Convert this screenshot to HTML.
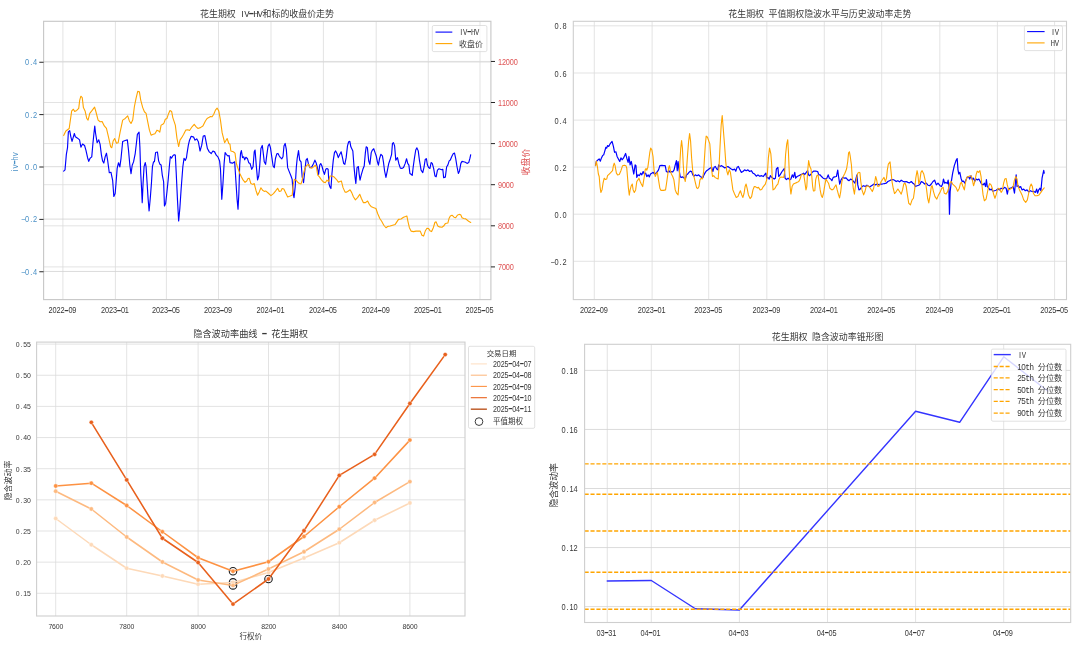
<!DOCTYPE html>
<html lang="zh-CN"><head><meta charset="utf-8"><title>花生期权</title>
<style>
html,body{margin:0;padding:0;background:#fff;}
body{width:1080px;height:646px;overflow:hidden;}
svg{display:block;font-family:"Liberation Sans","Noto Sans CJK SC",sans-serif;filter:blur(0.3px);}
</style></head><body>
<svg width="1080" height="646" viewBox="0 0 1080 646">
<rect width="1080" height="646" fill="#ffffff"/>
<line x1="62.90" y1="21.30" x2="62.90" y2="299.60" stroke="#dcdcdc" stroke-width="0.8"/>
<line x1="115.40" y1="21.30" x2="115.40" y2="299.60" stroke="#dcdcdc" stroke-width="0.8"/>
<line x1="166.40" y1="21.30" x2="166.40" y2="299.60" stroke="#dcdcdc" stroke-width="0.8"/>
<line x1="218.50" y1="21.30" x2="218.50" y2="299.60" stroke="#dcdcdc" stroke-width="0.8"/>
<line x1="271.00" y1="21.30" x2="271.00" y2="299.60" stroke="#dcdcdc" stroke-width="0.8"/>
<line x1="323.40" y1="21.30" x2="323.40" y2="299.60" stroke="#dcdcdc" stroke-width="0.8"/>
<line x1="376.20" y1="21.30" x2="376.20" y2="299.60" stroke="#dcdcdc" stroke-width="0.8"/>
<line x1="428.30" y1="21.30" x2="428.30" y2="299.60" stroke="#dcdcdc" stroke-width="0.8"/>
<line x1="480.00" y1="21.30" x2="480.00" y2="299.60" stroke="#dcdcdc" stroke-width="0.8"/>
<line x1="43.60" y1="61.95" x2="490.90" y2="61.95" stroke="#d2d2d2" stroke-width="0.8" />
<line x1="43.60" y1="114.30" x2="490.90" y2="114.30" stroke="#d2d2d2" stroke-width="0.8" />
<line x1="43.60" y1="166.70" x2="490.90" y2="166.70" stroke="#d2d2d2" stroke-width="0.8" />
<line x1="43.60" y1="219.10" x2="490.90" y2="219.10" stroke="#d2d2d2" stroke-width="0.8" />
<line x1="43.60" y1="271.45" x2="490.90" y2="271.45" stroke="#d2d2d2" stroke-width="0.8" />
<line x1="43.60" y1="61.45" x2="490.90" y2="61.45" stroke="#dcdcdc" stroke-width="0.8" />
<line x1="43.60" y1="102.50" x2="490.90" y2="102.50" stroke="#dcdcdc" stroke-width="0.8" />
<line x1="43.60" y1="143.60" x2="490.90" y2="143.60" stroke="#dcdcdc" stroke-width="0.8" />
<line x1="43.60" y1="184.70" x2="490.90" y2="184.70" stroke="#dcdcdc" stroke-width="0.8" />
<line x1="43.60" y1="225.80" x2="490.90" y2="225.80" stroke="#dcdcdc" stroke-width="0.8" />
<line x1="43.60" y1="266.90" x2="490.90" y2="266.90" stroke="#dcdcdc" stroke-width="0.8" />
<path d="M63.68 171.09 L65.01 169.92 L66.35 154.37 L67.52 147.69 L68.36 131.81 L69.69 130.64 L70.86 136.82 L72.03 141.34 L73.37 136.82 L74.37 133.48 L75.38 136.82 L77.55 138.16 L79.55 139.83 L80.89 147.19 L82.56 144.01 L84.57 145.52 L85.91 150.19 L87.58 157.72 L88.75 161.39 L90.08 158.22 L91.75 156.88 L92.92 143.51 L93.93 133.48 L94.76 125.96 L95.60 133.48 L97.10 142.67 L98.77 139.83 L100.11 144.35 L101.45 155.21 L102.62 161.06 L103.79 163.06 L105.13 156.88 L106.46 153.20 L107.63 160.22 L109.30 172.76 L110.97 172.26 L112.65 180.28 L113.82 196.46 L115.15 193.45 L115.99 183.43 L117.16 168.38 L118.50 162.73 L119.83 166.91 L121.00 158.55 L122.67 141.50 L125.18 140.50 L127.35 139.83 L128.52 150.19 L129.86 165.24 L131.03 173.59 L132.20 165.24 L133.54 161.89 L135.21 153.54 L136.38 143.51 L137.38 134.32 L139.05 132.14 L139.89 146.85 L140.72 173.59 L141.56 188.11 L142.23 202.65 L143.06 183.43 L144.07 166.71 L145.24 162.53 L146.07 166.71 L146.91 180.08 L148.08 198.47 L149.08 211.00 L150.25 198.47 L151.42 183.43 L152.42 166.71 L153.59 161.70 L154.43 161.70 L155.60 152.51 L157.44 152.01 L158.61 160.86 L159.94 164.21 L161.11 165.04 L162.28 175.07 L163.62 181.75 L164.46 205.99 L165.63 203.48 L166.96 191.78 L168.30 178.41 L169.47 165.04 L170.31 156.69 L171.64 158.02 L172.81 155.85 L174.15 154.68 L175.32 155.01 L176.16 171.73 L177.49 200.14 L178.66 221.03 L179.83 208.50 L181.17 188.44 L182.84 166.71 L184.01 158.36 L185.35 160.36 L186.52 157.52 L187.02 153.54 L188.36 145.18 L189.53 140.17 L191.20 136.32 L193.70 137.16 L195.04 140.17 L196.71 138.83 L198.38 141.84 L200.06 151.03 L201.73 145.18 L203.23 135.99 L204.90 135.65 L206.24 142.67 L207.41 148.52 L209.25 151.87 L211.25 153.54 L212.92 151.03 L214.60 151.87 L216.27 155.21 L217.94 156.88 L219.61 161.06 L220.45 168.58 L221.78 199.30 L222.95 183.43 L224.12 163.37 L225.13 152.53 L226.30 154.37 L227.97 156.04 L229.14 155.54 L230.00 162.65 L232.51 163.15 L234.68 161.81 L235.85 180.19 L237.02 198.58 L238.02 209.11 L238.86 193.57 L239.69 165.15 L240.53 153.45 L241.36 150.61 L242.53 157.63 L243.70 156.80 L244.71 159.81 L245.88 157.30 L247.55 158.80 L248.72 162.65 L250.06 163.48 L251.73 169.33 L253.06 166.82 L254.23 151.78 L255.07 150.11 L256.24 165.15 L257.58 179.86 L258.75 176.02 L259.75 165.15 L260.92 148.44 L262.26 145.43 L263.09 151.78 L264.26 161.81 L265.60 164.32 L266.77 155.13 L268.11 145.93 L269.28 143.93 L270.45 147.60 L271.78 156.80 L273.12 165.99 L274.29 167.66 L275.46 158.47 L276.80 153.79 L277.97 153.45 L279.30 155.96 L280.47 157.63 L281.81 158.80 L282.98 156.80 L283.98 145.93 L285.15 143.43 L286.32 149.28 L287.66 167.66 L289.33 171.84 L291.00 176.02 L292.17 179.36 L293.18 193.57 L294.01 197.74 L295.18 186.88 L296.35 166.82 L297.19 158.47 L298.52 150.61 L299.69 160.14 L301.03 161.81 L302.20 176.85 L303.54 182.70 L304.71 171.84 L306.04 160.14 L307.21 158.47 L308.55 164.32 L309.89 167.66 L311.89 166.82 L313.57 163.48 L314.90 160.14 L316.07 162.65 L317.24 166.82 L318.58 174.35 L319.75 165.15 L320.75 163.48 L321.92 165.99 L323.26 171.00 L324.43 174.35 L325.77 169.33 L326.94 168.50 L328.11 169.33 L328.94 183.54 L329.94 186.88 L330.95 188.55 L331.95 173.51 L333.29 160.14 L334.46 152.62 L335.63 150.95 L336.96 153.45 L338.30 157.63 L339.81 154.29 L341.14 151.78 L342.31 156.80 L343.65 163.48 L344.82 164.32 L346.16 157.63 L347.49 145.93 L348.66 141.75 L349.83 141.42 L350.84 146.77 L352.84 150.95 L354.01 166.82 L355.01 176.85 L355.85 183.54 L357.02 167.66 L358.36 166.49 L359.19 174.35 L360.03 180.19 L361.20 175.18 L362.87 169.33 L364.21 165.99 L365.38 152.62 L366.21 146.77 L367.38 147.60 L368.72 160.97 L369.89 164.32 L371.23 152.62 L372.40 150.11 L373.73 148.77 L375.07 152.62 L376.24 155.96 L377.41 161.81 L378.41 165.15 L379.58 158.47 L380.92 154.29 L382.42 155.96 L383.43 161.81 L384.60 171.00 L385.93 177.35 L387.10 171.84 L388.77 163.48 L390.45 158.47 L391.62 154.29 L392.45 143.43 L393.45 142.59 L394.62 145.93 L395.79 160.14 L397.47 157.63 L398.80 163.48 L400.36 168.08 L401.87 168.41 L403.54 167.58 L405.21 163.40 L406.55 158.72 L407.72 163.40 L408.89 165.07 L409.89 173.43 L411.06 174.26 L412.23 175.43 L413.23 166.74 L414.40 158.38 L415.74 150.03 L416.91 147.86 L418.25 150.86 L419.42 160.06 L421.09 170.08 L422.76 172.59 L423.93 167.58 L425.26 159.22 L426.43 158.72 L427.44 165.07 L428.61 167.58 L429.94 168.41 L431.11 162.56 L432.28 163.40 L433.62 168.41 L434.96 175.93 L436.13 176.77 L437.47 170.08 L438.97 168.75 L440.31 169.25 L441.64 169.75 L442.81 169.25 L443.65 177.60 L445.32 177.10 L446.66 166.74 L447.83 165.07 L449.16 160.89 L450.33 160.06 L451.67 156.71 L453.18 153.70 L454.51 153.04 L455.68 158.38 L457.02 166.74 L458.36 173.43 L459.53 170.92 L460.86 163.40 L462.03 161.39 L463.70 161.73 L465.38 162.23 L467.05 163.40 L468.72 162.56 L469.89 158.38 L470.72 154.71" fill="none" stroke="#0000ff" stroke-width="1.15" stroke-linejoin="round" stroke-linecap="round" />
<path d="M63.68 135.49 L65.85 130.97 L69.19 128.47 L70.36 120.11 L71.70 110.92 L73.37 109.25 L74.71 111.42 L76.71 110.42 L78.72 108.41 L79.72 100.06 L80.89 96.21 L82.23 97.55 L83.40 107.58 L85.07 110.92 L86.74 118.44 L88.08 120.11 L89.75 113.43 L91.75 110.92 L94.60 107.08 L95.93 111.75 L98.11 120.11 L100.11 121.78 L102.12 121.45 L104.29 125.96 L106.46 128.47 L108.47 136.82 L110.64 146.85 L111.81 147.69 L113.15 141.00 L114.65 138.50 L116.49 143.18 L118.16 142.67 L120.17 131.81 L122.67 120.11 L125.18 118.44 L127.69 115.93 L129.36 120.95 L131.03 123.45 L132.70 120.11 L134.37 106.74 L136.04 98.38 L137.72 91.36 L139.39 91.70 L140.72 100.06 L142.73 107.58 L144.40 111.75 L146.07 113.43 L147.74 121.78 L149.42 130.14 L151.09 135.15 L153.26 134.32 L154.93 133.82 L156.94 130.14 L158.61 130.97 L159.78 132.14 L161.11 125.13 L162.79 124.29 L163.96 123.12 L165.29 119.28 L166.96 118.44 L168.64 113.43 L169.97 110.58 L171.64 111.42 L172.81 117.60 L175.32 125.13 L176.99 138.50 L178.66 146.52 L180.00 140.17 L181.67 137.66 L183.68 134.32 L185.68 130.14 L187.86 129.81 L189.53 130.47 L192.03 126.80 L194.21 124.29 L196.21 126.80 L197.88 128.47 L200.39 127.63 L202.90 125.96 L205.40 120.95 L207.08 118.44 L208.75 117.60 L210.42 116.43 L212.09 116.77 L213.76 114.26 L215.43 110.08 L217.10 108.08 L218.77 110.92 L220.45 120.11 L222.12 132.65 L224.62 142.67 L227.13 138.50 L228.80 143.51 L230.00 144.26 L230.84 150.95 L233.34 151.78 L235.01 153.12 L236.35 163.48 L238.02 168.50 L239.69 173.18 L241.36 176.85 L243.04 179.86 L245.04 182.37 L246.71 181.03 L248.05 178.52 L249.22 178.19 L250.89 183.54 L252.56 184.37 L254.23 183.54 L255.91 190.22 L257.58 195.24 L259.25 191.89 L260.92 187.72 L262.59 190.22 L264.26 191.39 L265.93 191.06 L268.44 193.23 L270.95 195.57 L273.45 193.57 L275.46 191.06 L277.63 188.22 L279.30 191.56 L280.97 191.06 L282.14 188.55 L283.82 189.05 L285.99 193.57 L287.66 196.91 L290.17 196.07 L292.17 195.24 L293.18 185.21 L294.35 179.36 L296.02 180.19 L297.69 182.20 L299.36 183.54 L301.03 183.87 L302.20 180.19 L303.54 173.51 L304.87 168.50 L306.55 165.49 L308.55 164.32 L310.22 167.66 L311.89 168.16 L313.57 166.82 L315.24 165.15 L316.41 166.82 L317.74 175.18 L319.42 176.85 L321.09 179.36 L323.26 181.87 L325.26 182.70 L326.94 180.19 L328.61 181.53 L330.00 175.93 L332.01 175.93 L334.18 177.10 L336.35 179.28 L338.36 182.12 L340.03 181.45 L341.36 180.95 L343.04 187.63 L345.04 192.14 L346.71 192.14 L348.38 190.97 L350.06 189.81 L351.73 192.65 L353.40 196.82 L355.40 199.83 L357.58 197.66 L359.75 194.32 L361.42 198.50 L363.43 202.67 L365.43 202.67 L367.60 201.00 L369.28 204.35 L371.45 206.85 L373.79 207.69 L375.96 208.52 L377.63 213.54 L379.81 218.55 L381.81 221.56 L383.82 225.24 L385.99 227.74 L387.66 226.57 L390.17 226.07 L392.67 225.24 L395.18 224.40 L396.85 221.89 L398.52 219.39 L401.03 219.05 L403.54 217.21 L405.54 216.55 L406.88 216.04 L408.05 221.89 L409.39 227.74 L411.06 231.09 L413.57 231.59 L416.07 231.09 L418.58 231.09 L420.25 231.09 L421.92 235.26 L423.59 236.10 L425.26 231.09 L426.94 228.25 L428.61 228.58 L430.28 231.09 L431.62 231.59 L433.29 227.74 L434.96 222.23 L436.13 221.89 L437.80 226.07 L439.47 226.91 L441.98 227.24 L443.65 226.07 L445.32 223.57 L447.83 223.06 L449.00 218.55 L450.33 216.04 L452.01 215.21 L454.01 217.21 L455.68 217.72 L457.35 215.21 L459.03 214.37 L460.70 214.71 L462.03 217.72 L463.70 218.55 L465.71 218.89 L467.38 220.22 L469.05 221.56 L470.72 222.40" fill="none" stroke="#ffa500" stroke-width="1.1" stroke-linejoin="round" stroke-linecap="round" />
<rect x="43.60" y="21.30" width="447.30" height="278.30" fill="none" stroke="#c8c8c8" stroke-width="1.15" rx="0" />
<text x="48.63 53.26 57.88 62.50 67.12 71.74 76.37" y="313.43" text-anchor="middle" fill="#383838" font-size="8.59" transform="translate(62.50 0) scale(0.86 1) translate(-62.50 0)" >2022<tspan font-family="'Liberation Mono',monospace" font-size="15.45" baseline-shift="-1.17">-</tspan>09</text>
<text x="101.13 105.76 110.38 115.00 119.62 124.24 128.87" y="313.43" text-anchor="middle" fill="#383838" font-size="8.59" transform="translate(115.00 0) scale(0.86 1) translate(-115.00 0)" >2023<tspan font-family="'Liberation Mono',monospace" font-size="15.45" baseline-shift="-1.17">-</tspan>01</text>
<text x="152.13 156.76 161.38 166.00 170.62 175.24 179.87" y="313.43" text-anchor="middle" fill="#383838" font-size="8.59" transform="translate(166.00 0) scale(0.86 1) translate(-166.00 0)" >2023<tspan font-family="'Liberation Mono',monospace" font-size="15.45" baseline-shift="-1.17">-</tspan>05</text>
<text x="204.23 208.86 213.48 218.10 222.72 227.34 231.97" y="313.43" text-anchor="middle" fill="#383838" font-size="8.59" transform="translate(218.10 0) scale(0.86 1) translate(-218.10 0)" >2023<tspan font-family="'Liberation Mono',monospace" font-size="15.45" baseline-shift="-1.17">-</tspan>09</text>
<text x="256.73 261.36 265.98 270.60 275.22 279.84 284.47" y="313.43" text-anchor="middle" fill="#383838" font-size="8.59" transform="translate(270.60 0) scale(0.86 1) translate(-270.60 0)" >2024<tspan font-family="'Liberation Mono',monospace" font-size="15.45" baseline-shift="-1.17">-</tspan>01</text>
<text x="309.13 313.76 318.38 323.00 327.62 332.24 336.87" y="313.43" text-anchor="middle" fill="#383838" font-size="8.59" transform="translate(323.00 0) scale(0.86 1) translate(-323.00 0)" >2024<tspan font-family="'Liberation Mono',monospace" font-size="15.45" baseline-shift="-1.17">-</tspan>05</text>
<text x="361.93 366.56 371.18 375.80 380.42 385.04 389.67" y="313.43" text-anchor="middle" fill="#383838" font-size="8.59" transform="translate(375.80 0) scale(0.86 1) translate(-375.80 0)" >2024<tspan font-family="'Liberation Mono',monospace" font-size="15.45" baseline-shift="-1.17">-</tspan>09</text>
<text x="414.03 418.66 423.28 427.90 432.52 437.14 441.77" y="313.43" text-anchor="middle" fill="#383838" font-size="8.59" transform="translate(427.90 0) scale(0.86 1) translate(-427.90 0)" >2025<tspan font-family="'Liberation Mono',monospace" font-size="15.45" baseline-shift="-1.17">-</tspan>01</text>
<text x="465.73 470.36 474.98 479.60 484.22 488.84 493.47" y="313.43" text-anchor="middle" fill="#383838" font-size="8.59" transform="translate(479.60 0) scale(0.86 1) translate(-479.60 0)" >2025<tspan font-family="'Liberation Mono',monospace" font-size="15.45" baseline-shift="-1.17">-</tspan>05</text>
<line x1="39.30" y1="62.25" x2="43.60" y2="62.25" stroke="#262626" stroke-width="1.0" />
<text x="25.57 30.22 34.87" y="65.20" text-anchor="middle" fill="#4a90c6" font-size="8.64" transform="translate(37.20 0) scale(0.86 1) translate(-37.20 0)" >0.4</text>
<line x1="39.30" y1="114.60" x2="43.60" y2="114.60" stroke="#262626" stroke-width="1.0" />
<text x="25.57 30.22 34.87" y="117.55" text-anchor="middle" fill="#4a90c6" font-size="8.64" transform="translate(37.20 0) scale(0.86 1) translate(-37.20 0)" >0.2</text>
<line x1="39.30" y1="167.00" x2="43.60" y2="167.00" stroke="#262626" stroke-width="1.0" />
<text x="25.57 30.22 34.87" y="169.95" text-anchor="middle" fill="#4a90c6" font-size="8.64" transform="translate(37.20 0) scale(0.86 1) translate(-37.20 0)" >0.0</text>
<line x1="39.30" y1="219.40" x2="43.60" y2="219.40" stroke="#262626" stroke-width="1.0" />
<text x="20.92 25.57 30.22 34.87" y="222.35" text-anchor="middle" fill="#4a90c6" font-size="8.64" transform="translate(37.20 0) scale(0.86 1) translate(-37.20 0)" >−0.2</text>
<line x1="39.30" y1="271.75" x2="43.60" y2="271.75" stroke="#262626" stroke-width="1.0" />
<text x="20.92 25.57 30.22 34.87" y="274.70" text-anchor="middle" fill="#4a90c6" font-size="8.64" transform="translate(37.20 0) scale(0.86 1) translate(-37.20 0)" >−0.4</text>
<line x1="490.90" y1="61.45" x2="495.00" y2="61.45" stroke="#262626" stroke-width="1.0" />
<text x="500.30 504.89 509.48 514.08 518.67" y="64.66" text-anchor="middle" fill="#de5253" font-size="8.53" transform="translate(498.00 0) scale(0.86 1) translate(-498.00 0)" >12000</text>
<line x1="490.90" y1="102.50" x2="495.00" y2="102.50" stroke="#262626" stroke-width="1.0" />
<text x="500.30 504.89 509.48 514.08 518.67" y="105.71" text-anchor="middle" fill="#de5253" font-size="8.53" transform="translate(498.00 0) scale(0.86 1) translate(-498.00 0)" >11000</text>
<line x1="490.90" y1="143.60" x2="495.00" y2="143.60" stroke="#262626" stroke-width="1.0" />
<text x="500.30 504.89 509.48 514.08 518.67" y="146.81" text-anchor="middle" fill="#de5253" font-size="8.53" transform="translate(498.00 0) scale(0.86 1) translate(-498.00 0)" >10000</text>
<line x1="490.90" y1="184.70" x2="495.00" y2="184.70" stroke="#262626" stroke-width="1.0" />
<text x="500.30 504.89 509.48 514.08" y="187.91" text-anchor="middle" fill="#de5253" font-size="8.53" transform="translate(498.00 0) scale(0.86 1) translate(-498.00 0)" >9000</text>
<line x1="490.90" y1="225.80" x2="495.00" y2="225.80" stroke="#262626" stroke-width="1.0" />
<text x="500.30 504.89 509.48 514.08" y="229.01" text-anchor="middle" fill="#de5253" font-size="8.53" transform="translate(498.00 0) scale(0.86 1) translate(-498.00 0)" >8000</text>
<line x1="490.90" y1="266.90" x2="495.00" y2="266.90" stroke="#262626" stroke-width="1.0" />
<text x="500.30 504.89 509.48 514.08" y="270.11" text-anchor="middle" fill="#de5253" font-size="8.53" transform="translate(498.00 0) scale(0.86 1) translate(-498.00 0)" >7000</text>
<text x="4.77 9.53 14.30 19.07 23.83" y="165.73" text-anchor="middle" fill="#4a90c6" font-size="8.86" transform="rotate(-90 14.30 162.50) translate(14.30 0) scale(0.86 1) translate(-14.30 0)" >i<tspan font-family="'Liberation Mono',monospace" font-size="8.70">v</tspan><tspan font-family="'Liberation Mono',monospace" font-size="15.94" baseline-shift="-1.20">-</tspan><tspan font-family="'Liberation Mono',monospace" font-size="8.70">hv</tspan></text>
<text x="517.20 526.00 534.80" y="165.21" text-anchor="middle" fill="#de5253" font-size="8.80" transform="rotate(-90 526.00 162.00)" >收盘价</text>
<text x="204.49 213.42 222.35 231.28 237.98 242.44 246.91 251.37 255.84 260.30 267.00 275.93 284.86 293.79 302.72 311.65 320.58 329.51" y="17.46" text-anchor="middle" fill="#383838" font-size="8.93" >花生期权 I<tspan font-family="'Liberation Mono',monospace" font-size="8.93">V</tspan><tspan font-family="'Liberation Mono',monospace" font-size="16.07" baseline-shift="-1.21">-</tspan><tspan font-family="'Liberation Mono',monospace" font-size="8.93">HV</tspan>和标的收盘价走势</text>
<rect x="432.30" y="25.50" width="54.60" height="26.10" fill="rgba(255,255,255,0.8)" stroke="#d4d4d4" stroke-width="0.7" rx="1.5" />
<line x1="435.50" y1="32.10" x2="452.30" y2="32.10" stroke="#0000ff" stroke-width="1.1" />
<line x1="435.50" y1="43.60" x2="452.30" y2="43.60" stroke="#ffa500" stroke-width="1.1" />
<text x="461.60 466.19 470.78 475.38 479.97" y="35.41" text-anchor="middle" fill="#383838" font-size="8.53" transform="translate(459.30 0) scale(0.86 1) translate(-459.30 0)" >I<tspan font-family="'Liberation Mono',monospace" font-size="8.38">V</tspan><tspan font-family="'Liberation Mono',monospace" font-size="15.36" baseline-shift="-1.16">-</tspan><tspan font-family="'Liberation Mono',monospace" font-size="8.38">HV</tspan></text>
<text x="463.05 470.95 478.85" y="46.58" text-anchor="middle" fill="#383838" font-size="7.90" >收盘价</text>
<line x1="594.30" y1="21.30" x2="594.30" y2="299.60" stroke="#dcdcdc" stroke-width="0.8"/>
<line x1="652.10" y1="21.30" x2="652.10" y2="299.60" stroke="#dcdcdc" stroke-width="0.8"/>
<line x1="708.70" y1="21.30" x2="708.70" y2="299.60" stroke="#dcdcdc" stroke-width="0.8"/>
<line x1="766.80" y1="21.30" x2="766.80" y2="299.60" stroke="#dcdcdc" stroke-width="0.8"/>
<line x1="824.30" y1="21.30" x2="824.30" y2="299.60" stroke="#dcdcdc" stroke-width="0.8"/>
<line x1="881.70" y1="21.30" x2="881.70" y2="299.60" stroke="#dcdcdc" stroke-width="0.8"/>
<line x1="939.80" y1="21.30" x2="939.80" y2="299.60" stroke="#dcdcdc" stroke-width="0.8"/>
<line x1="997.40" y1="21.30" x2="997.40" y2="299.60" stroke="#dcdcdc" stroke-width="0.8"/>
<line x1="1054.60" y1="21.30" x2="1054.60" y2="299.60" stroke="#dcdcdc" stroke-width="0.8"/>
<line x1="573.30" y1="25.80" x2="1066.50" y2="25.80" stroke="#dcdcdc" stroke-width="0.8" />
<line x1="573.30" y1="73.00" x2="1066.50" y2="73.00" stroke="#dcdcdc" stroke-width="0.8" />
<line x1="573.30" y1="120.10" x2="1066.50" y2="120.10" stroke="#dcdcdc" stroke-width="0.8" />
<line x1="573.30" y1="167.10" x2="1066.50" y2="167.10" stroke="#dcdcdc" stroke-width="0.8" />
<line x1="573.30" y1="214.20" x2="1066.50" y2="214.20" stroke="#dcdcdc" stroke-width="0.8" />
<line x1="573.30" y1="261.30" x2="1066.50" y2="261.30" stroke="#dcdcdc" stroke-width="0.8" />
<path d="M595.52 165.66 L596.35 161.48 L598.02 159.81 L599.19 158.97 L600.36 161.15 L601.36 158.14 L602.53 155.63 L603.70 154.80 L604.71 151.45 L605.88 147.28 L606.71 148.11 L607.55 145.60 L608.72 146.44 L610.06 143.93 L612.06 141.43 L613.40 146.44 L614.57 152.29 L615.91 151.79 L617.08 156.47 L618.41 158.97 L619.75 161.48 L620.92 157.81 L622.09 159.81 L623.43 158.14 L624.60 155.63 L625.60 153.46 L626.77 158.14 L628.11 162.32 L628.94 156.47 L630.11 164.82 L631.28 161.48 L632.62 168.17 L633.79 174.02 L635.13 164.82 L635.96 165.66 L636.80 177.36 L637.97 174.85 L639.30 175.69 L640.64 173.18 L641.81 174.85 L643.15 171.51 L644.32 174.02 L645.65 173.18 L646.82 176.52 L648.16 174.85 L649.33 176.86 L650.50 174.02 L651.84 173.18 L653.18 172.35 L654.35 174.02 L655.68 173.18 L656.85 172.35 L658.52 169.84 L659.86 165.66 L661.87 165.33 L663.54 165.66 L665.21 165.66 L666.38 171.51 L667.72 172.35 L668.89 170.67 L670.22 172.35 L671.56 171.51 L672.73 172.01 L674.07 169.84 L675.24 164.82 L676.41 160.65 L677.24 170.67 L678.08 161.48 L679.08 169.84 L680.25 176.86 L681.59 177.36 L682.76 176.86 L684.09 178.19 L685.26 179.03 L686.60 174.85 L687.77 174.02 L688.94 172.35 L690.28 171.18 L691.62 171.51 L692.79 174.85 L693.96 176.19 L695.29 174.85 L696.96 175.69 L698.64 174.85 L700.31 176.52 L701.64 177.36 L702.81 177.86 L703.98 174.85 L705.32 172.35 L706.66 170.67 L708.33 169.50 L710.00 168.17 L711.67 167.33 L712.84 171.51 L714.01 167.33 L715.35 166.50 L716.69 169.00 L717.86 169.84 L718.69 164.82 L719.86 166.50 L721.20 165.66 L722.87 166.50 L724.54 167.83 L726.21 167.33 L727.88 166.50 L729.55 167.83 L731.23 169.00 L732.90 169.84 L734.57 169.00 L735.74 171.18 L737.08 167.33 L738.41 166.50 L739.58 169.00 L741.25 172.35 L742.92 171.51 L744.60 169.84 L746.27 170.67 L747.94 169.84 L749.61 171.51 L751.28 170.67 L752.95 173.18 L754.62 174.02 L756.30 176.19 L757.97 174.85 L759.64 176.19 L760.00 176.19 L761.67 175.69 L763.34 176.52 L764.51 174.85 L765.85 173.18 L766.69 178.19 L767.86 177.36 L769.19 179.03 L770.36 175.69 L771.70 177.36 L773.04 178.19 L774.21 179.03 L775.38 178.19 L776.38 169.00 L777.88 167.33 L778.72 176.52 L780.06 174.85 L782.06 171.51 L784.23 168.50 L785.07 178.19 L786.41 179.53 L788.08 178.19 L789.75 179.87 L790.92 179.03 L792.26 174.85 L793.43 177.36 L794.76 172.35 L795.60 178.19 L797.10 176.52 L798.77 175.69 L800.45 174.85 L802.12 174.02 L803.45 173.18 L804.79 174.52 L806.30 172.35 L807.63 170.67 L808.47 174.85 L809.64 175.69 L810.97 174.02 L812.14 172.35 L813.82 171.01 L815.65 171.18 L817.66 171.51 L818.83 174.85 L820.17 174.85 L821.50 176.52 L823.18 178.19 L825.18 179.03 L826.85 178.19 L828.19 174.85 L829.36 178.19 L830.70 179.03 L831.87 180.70 L833.20 177.36 L834.71 176.86 L836.38 176.52 L837.72 170.17 L838.55 176.52 L839.72 184.04 L841.06 179.87 L842.73 177.36 L844.40 178.19 L846.07 177.86 L847.74 179.87 L849.08 180.70 L850.58 179.03 L852.26 179.87 L853.59 181.54 L854.93 183.21 L856.10 178.19 L856.94 174.85 L857.77 184.88 L858.94 189.89 L860.28 189.06 L861.95 186.55 L863.62 185.72 L865.29 186.55 L866.96 185.21 L868.64 186.22 L870.31 186.55 L872.31 185.21 L873.98 184.04 L875.65 184.88 L877.33 184.04 L879.00 184.88 L880.67 184.04 L882.34 184.04 L884.51 183.54 L886.18 183.21 L887.86 181.54 L889.53 180.70 L891.20 179.87 L892.87 179.53 L894.54 180.20 L896.21 181.54 L897.88 180.70 L899.55 181.87 L901.23 180.20 L902.90 181.20 L904.57 181.87 L906.24 181.54 L907.91 182.37 L909.58 182.87 L911.25 181.54 L912.92 183.21 L914.09 184.04 L915.43 186.55 L917.10 185.72 L918.77 185.21 L920.11 184.04 L921.28 181.54 L922.95 182.37 L924.62 184.04 L926.30 183.21 L927.97 185.21 L929.64 185.72 L931.31 184.04 L932.98 181.54 L934.65 180.20 L936.32 184.88 L937.99 183.21 L940.00 185.72 L941.45 186.55 L942.62 184.04 L943.45 179.03 L944.62 183.21 L945.96 182.37 L947.30 183.54 L948.13 180.20 L948.80 184.88 L949.47 214.13 L950.14 191.57 L951.31 181.54 L952.65 173.18 L954.32 165.66 L955.99 160.65 L957.16 158.64 L957.99 169.84 L958.83 174.02 L959.83 172.35 L961.00 178.19 L962.17 181.54 L963.51 181.20 L964.85 183.21 L966.02 179.87 L967.19 177.36 L968.52 176.52 L969.69 179.03 L971.03 175.69 L972.37 179.87 L973.54 178.19 L974.87 181.20 L976.04 179.03 L977.38 179.87 L978.89 179.03 L980.22 181.54 L981.56 184.04 L983.06 184.88 L984.40 183.21 L985.57 186.55 L986.41 179.53 L987.24 186.55 L988.58 187.89 L989.92 189.89 L991.42 189.06 L992.76 191.23 L994.43 190.73 L996.10 190.23 L997.77 189.06 L999.44 189.89 L1001.11 188.22 L1002.79 189.06 L1004.46 187.39 L1006.13 188.22 L1007.30 194.07 L1008.30 189.06 L1009.81 188.22 L1011.48 187.89 L1013.15 186.55 L1014.48 193.24 L1015.32 184.04 L1016.16 174.85 L1016.99 186.55 L1018.16 185.72 L1019.50 187.39 L1020.67 186.55 L1022.01 189.89 L1023.68 189.06 L1025.35 190.73 L1027.02 189.89 L1028.69 191.90 L1030.36 190.73 L1032.03 191.57 L1033.70 191.23 L1035.38 192.40 L1036.71 189.06 L1037.55 193.24 L1038.72 189.89 L1039.89 188.22 L1040.89 190.73 L1042.06 178.19 L1042.90 174.02 L1043.73 170.34 L1044.23 173.18" fill="none" stroke="#0000ff" stroke-width="1.2" stroke-linejoin="round" stroke-linecap="round" />
<path d="M595.52 165.66 L596.35 161.15 L597.52 167.33 L598.36 174.02 L599.19 176.52 L600.03 186.55 L600.86 192.40 L602.03 189.89 L603.04 183.21 L604.21 178.19 L605.38 179.53 L606.71 179.03 L607.55 175.69 L609.22 174.02 L610.89 172.35 L612.56 170.67 L613.40 165.66 L614.23 163.15 L615.07 165.66 L616.41 173.18 L617.58 174.85 L619.25 174.52 L620.92 170.67 L622.59 165.66 L624.26 165.16 L625.93 165.66 L626.77 168.17 L627.60 178.19 L628.44 188.22 L629.28 195.24 L630.11 189.89 L631.28 185.72 L632.28 184.04 L633.12 189.89 L634.29 192.40 L635.63 189.89 L636.80 181.54 L637.97 179.87 L638.97 178.19 L640.14 181.54 L641.31 184.04 L642.65 186.55 L643.48 181.54 L644.32 176.52 L645.15 169.84 L645.99 168.50 L646.82 170.17 L647.83 167.33 L648.83 159.81 L649.83 152.29 L650.67 148.11 L651.84 149.78 L653.01 156.47 L654.01 169.84 L655.18 176.52 L656.35 174.02 L657.35 172.35 L658.52 179.87 L659.86 188.22 L661.03 190.40 L663.54 190.40 L665.54 189.89 L666.55 183.21 L667.72 174.85 L668.55 168.17 L669.39 165.66 L670.22 169.84 L671.39 174.02 L672.73 176.52 L673.90 179.87 L675.24 189.89 L676.57 193.24 L678.08 194.91 L679.08 181.54 L679.92 161.48 L680.75 148.11 L681.59 140.59 L682.42 148.11 L683.26 164.82 L684.09 176.52 L685.26 181.54 L686.43 171.51 L687.44 156.47 L688.61 141.43 L689.61 133.57 L690.61 141.43 L691.62 158.14 L692.79 171.51 L693.96 176.52 L695.29 182.37 L696.63 187.89 L697.80 188.56 L698.97 186.55 L699.97 179.87 L701.14 178.19 L702.31 179.03 L703.65 171.51 L704.48 158.14 L705.32 144.77 L706.16 136.08 L707.49 137.25 L708.66 140.59 L709.83 143.93 L710.84 158.14 L711.67 169.84 L712.51 176.52 L713.68 175.69 L715.01 177.36 L716.52 178.19 L718.19 179.03 L719.03 166.50 L720.03 146.44 L721.20 124.71 L722.20 115.52 L723.20 128.06 L724.54 144.77 L725.71 161.48 L726.71 170.67 L727.88 174.85 L729.22 169.84 L730.39 172.35 L731.73 181.54 L732.90 189.89 L734.57 194.07 L736.24 197.42 L737.91 196.58 L739.25 193.24 L740.42 190.73 L741.75 194.91 L742.92 197.42 L744.09 193.24 L745.10 186.55 L746.10 184.04 L747.10 188.22 L748.44 194.91 L750.11 198.58 L751.62 196.58 L752.95 189.89 L754.29 186.55 L755.79 186.89 L757.13 187.89 L758.47 187.39 L760.14 189.89 L761.67 189.56 L763.34 186.55 L765.35 184.04 L766.69 179.87 L767.52 171.51 L768.36 158.14 L769.53 148.11 L770.86 153.96 L771.70 164.82 L772.20 178.19 L773.04 189.89 L774.71 188.72 L776.38 185.72 L777.88 184.04 L778.89 179.87 L780.06 177.36 L781.73 177.03 L783.73 177.36 L784.74 171.51 L785.57 154.80 L786.74 143.93 L787.74 139.75 L788.41 151.45 L789.25 171.51 L790.08 186.55 L790.92 194.07 L792.09 186.55 L793.43 184.04 L795.10 183.21 L797.10 182.37 L798.77 181.54 L800.11 179.03 L801.28 174.85 L802.62 174.02 L803.79 174.85 L804.79 181.54 L805.96 189.89 L806.80 186.55 L807.63 171.51 L808.64 160.65 L809.81 166.50 L810.97 169.00 L811.81 176.52 L812.65 186.55 L813.48 191.06 L814.82 190.73 L815.65 179.87 L816.82 175.69 L817.99 174.85 L819.00 181.54 L820.17 189.89 L821.34 195.74 L822.34 197.42 L823.51 193.24 L824.85 184.88 L826.02 179.03 L827.35 181.54 L828.52 183.21 L829.86 188.22 L831.87 189.89 L833.54 189.06 L834.87 186.55 L836.04 184.88 L837.21 189.89 L838.55 194.91 L839.55 197.92 L840.72 191.57 L841.89 181.54 L843.23 176.52 L844.90 173.18 L846.57 169.00 L847.74 161.48 L848.58 152.79 L849.42 151.79 L850.25 156.47 L851.42 164.82 L852.26 178.19 L853.26 188.22 L854.43 194.07 L855.26 187.39 L856.60 178.19 L857.77 173.18 L858.94 172.35 L859.94 172.85 L860.78 181.54 L861.95 189.89 L863.62 194.91 L864.96 191.57 L866.13 186.55 L867.47 185.72 L868.97 186.55 L870.31 188.22 L872.31 191.57 L873.65 188.22 L874.82 181.54 L875.65 176.52 L876.66 179.87 L877.83 186.55 L879.50 185.72 L881.17 181.54 L882.84 179.03 L884.01 177.36 L885.35 181.54 L886.52 178.19 L887.35 169.84 L888.36 163.99 L890.03 161.82 L890.86 169.84 L892.03 181.54 L893.20 188.22 L894.54 193.57 L896.21 191.57 L897.88 189.06 L899.55 191.57 L901.23 194.07 L902.56 189.89 L903.73 184.04 L905.07 183.21 L906.24 186.55 L907.41 194.91 L908.75 203.26 L910.42 204.94 L912.09 199.92 L913.43 198.25 L914.60 189.89 L915.77 178.19 L917.10 170.67 L917.94 174.85 L918.77 184.04 L919.94 179.87 L920.95 172.35 L922.12 170.67 L923.79 174.02 L925.46 181.54 L926.63 189.89 L927.63 198.25 L928.80 202.93 L930.14 194.91 L931.31 186.55 L932.14 185.72 L933.48 191.57 L934.99 196.58 L936.82 199.09 L938.50 194.91 L940.00 192.40 L941.78 188.22 L943.12 187.39 L944.29 193.24 L945.96 194.07 L947.63 191.57 L948.97 186.55 L950.14 182.37 L951.31 181.54 L952.65 184.04 L954.32 185.72 L955.99 187.39 L957.66 191.23 L959.33 188.22 L960.50 183.21 L961.50 182.37 L962.67 185.72 L964.35 189.89 L965.68 181.54 L966.85 177.36 L968.52 176.52 L970.19 175.69 L971.53 176.52 L972.70 181.54 L973.54 185.72 L974.87 181.54 L976.04 174.85 L977.21 171.18 L978.55 172.35 L979.89 170.67 L981.06 176.52 L981.89 184.88 L983.06 194.91 L984.40 200.76 L986.07 199.09 L987.24 193.24 L988.58 186.55 L989.75 183.54 L991.09 184.88 L992.26 188.22 L993.59 194.07 L994.93 198.25 L996.10 194.91 L997.44 189.89 L998.61 188.22 L999.78 189.06 L1001.11 192.40 L1002.28 190.73 L1003.62 183.21 L1004.79 179.03 L1006.13 178.53 L1007.30 184.88 L1008.64 189.89 L1010.31 189.06 L1011.98 188.22 L1013.31 185.72 L1014.48 179.87 L1015.82 176.52 L1016.99 179.03 L1018.16 186.55 L1019.50 189.89 L1020.84 192.40 L1022.01 194.91 L1023.68 199.92 L1025.68 202.43 L1027.35 199.92 L1028.69 193.24 L1030.03 186.55 L1031.20 184.04 L1032.37 186.55 L1033.37 193.24 L1035.04 195.74 L1037.05 195.74 L1039.05 194.91 L1040.89 192.40 L1042.56 189.89 L1044.23 187.89" fill="none" stroke="#ffa500" stroke-width="1.1" stroke-linejoin="round" stroke-linecap="round" />
<rect x="573.30" y="21.30" width="493.20" height="278.30" fill="none" stroke="#cecece" stroke-width="1.1" rx="0" />
<text x="580.03 584.66 589.28 593.90 598.52 603.14 607.77" y="313.43" text-anchor="middle" fill="#383838" font-size="8.59" transform="translate(593.90 0) scale(0.86 1) translate(-593.90 0)" >2022<tspan font-family="'Liberation Mono',monospace" font-size="15.45" baseline-shift="-1.17">-</tspan>09</text>
<text x="637.83 642.46 647.08 651.70 656.32 660.94 665.57" y="313.43" text-anchor="middle" fill="#383838" font-size="8.59" transform="translate(651.70 0) scale(0.86 1) translate(-651.70 0)" >2023<tspan font-family="'Liberation Mono',monospace" font-size="15.45" baseline-shift="-1.17">-</tspan>01</text>
<text x="694.43 699.06 703.68 708.30 712.92 717.54 722.17" y="313.43" text-anchor="middle" fill="#383838" font-size="8.59" transform="translate(708.30 0) scale(0.86 1) translate(-708.30 0)" >2023<tspan font-family="'Liberation Mono',monospace" font-size="15.45" baseline-shift="-1.17">-</tspan>05</text>
<text x="752.53 757.16 761.78 766.40 771.02 775.64 780.27" y="313.43" text-anchor="middle" fill="#383838" font-size="8.59" transform="translate(766.40 0) scale(0.86 1) translate(-766.40 0)" >2023<tspan font-family="'Liberation Mono',monospace" font-size="15.45" baseline-shift="-1.17">-</tspan>09</text>
<text x="810.03 814.66 819.28 823.90 828.52 833.14 837.77" y="313.43" text-anchor="middle" fill="#383838" font-size="8.59" transform="translate(823.90 0) scale(0.86 1) translate(-823.90 0)" >2024<tspan font-family="'Liberation Mono',monospace" font-size="15.45" baseline-shift="-1.17">-</tspan>01</text>
<text x="867.43 872.06 876.68 881.30 885.92 890.54 895.17" y="313.43" text-anchor="middle" fill="#383838" font-size="8.59" transform="translate(881.30 0) scale(0.86 1) translate(-881.30 0)" >2024<tspan font-family="'Liberation Mono',monospace" font-size="15.45" baseline-shift="-1.17">-</tspan>05</text>
<text x="925.53 930.16 934.78 939.40 944.02 948.64 953.27" y="313.43" text-anchor="middle" fill="#383838" font-size="8.59" transform="translate(939.40 0) scale(0.86 1) translate(-939.40 0)" >2024<tspan font-family="'Liberation Mono',monospace" font-size="15.45" baseline-shift="-1.17">-</tspan>09</text>
<text x="983.13 987.76 992.38 997.00 1001.62 1006.24 1010.87" y="313.43" text-anchor="middle" fill="#383838" font-size="8.59" transform="translate(997.00 0) scale(0.86 1) translate(-997.00 0)" >2025<tspan font-family="'Liberation Mono',monospace" font-size="15.45" baseline-shift="-1.17">-</tspan>01</text>
<text x="1040.33 1044.96 1049.58 1054.20 1058.82 1063.44 1068.07" y="313.43" text-anchor="middle" fill="#383838" font-size="8.59" transform="translate(1054.20 0) scale(0.86 1) translate(-1054.20 0)" >2025<tspan font-family="'Liberation Mono',monospace" font-size="15.45" baseline-shift="-1.17">-</tspan>05</text>
<text x="554.97 559.62 564.27" y="29.45" text-anchor="middle" fill="#383838" font-size="8.64" transform="translate(566.60 0) scale(0.86 1) translate(-566.60 0)" >0.8</text>
<text x="554.97 559.62 564.27" y="76.65" text-anchor="middle" fill="#383838" font-size="8.64" transform="translate(566.60 0) scale(0.86 1) translate(-566.60 0)" >0.6</text>
<text x="554.97 559.62 564.27" y="123.75" text-anchor="middle" fill="#383838" font-size="8.64" transform="translate(566.60 0) scale(0.86 1) translate(-566.60 0)" >0.4</text>
<text x="554.97 559.62 564.27" y="170.75" text-anchor="middle" fill="#383838" font-size="8.64" transform="translate(566.60 0) scale(0.86 1) translate(-566.60 0)" >0.2</text>
<text x="554.97 559.62 564.27" y="217.85" text-anchor="middle" fill="#383838" font-size="8.64" transform="translate(566.60 0) scale(0.86 1) translate(-566.60 0)" >0.0</text>
<text x="550.32 554.97 559.62 564.27" y="264.95" text-anchor="middle" fill="#383838" font-size="8.64" transform="translate(566.60 0) scale(0.86 1) translate(-566.60 0)" >−0.2</text>
<text x="732.73 741.66 750.59 759.52 766.22 772.92 781.85 790.78 799.71 808.64 817.57 826.50 835.43 844.36 853.29 862.22 871.15 880.08 889.01 897.94 906.87" y="17.46" text-anchor="middle" fill="#383838" font-size="8.93" >花生期权 平值期权隐波水平与历史波动率走势</text>
<rect x="1024.40" y="25.80" width="38.10" height="24.80" fill="rgba(255,255,255,0.8)" stroke="#d4d4d4" stroke-width="0.7" rx="1.5" />
<line x1="1027.10" y1="31.60" x2="1044.60" y2="31.60" stroke="#0000ff" stroke-width="1.1" />
<line x1="1027.10" y1="42.90" x2="1044.60" y2="42.90" stroke="#ffa500" stroke-width="1.1" />
<text x="1053.30 1057.89" y="34.91" text-anchor="middle" fill="#383838" font-size="8.53" transform="translate(1051.00 0) scale(0.86 1) translate(-1051.00 0)" >I<tspan font-family="'Liberation Mono',monospace" font-size="8.38">V</tspan></text>
<text x="1053.30 1057.89" y="46.21" text-anchor="middle" fill="#383838" font-size="8.53" transform="translate(1051.00 0) scale(0.86 1) translate(-1051.00 0)" ><tspan font-family="'Liberation Mono',monospace" font-size="8.38">HV</tspan></text>
<line x1="55.70" y1="342.10" x2="55.70" y2="616.00" stroke="#dcdcdc" stroke-width="0.8"/>
<line x1="126.70" y1="342.10" x2="126.70" y2="616.00" stroke="#dcdcdc" stroke-width="0.8"/>
<line x1="198.10" y1="342.10" x2="198.10" y2="616.00" stroke="#dcdcdc" stroke-width="0.8"/>
<line x1="268.50" y1="342.10" x2="268.50" y2="616.00" stroke="#dcdcdc" stroke-width="0.8"/>
<line x1="339.30" y1="342.10" x2="339.30" y2="616.00" stroke="#dcdcdc" stroke-width="0.8"/>
<line x1="409.90" y1="342.10" x2="409.90" y2="616.00" stroke="#dcdcdc" stroke-width="0.8"/>
<line x1="36.60" y1="344.10" x2="465.00" y2="344.10" stroke="#dcdcdc" stroke-width="0.8" />
<line x1="36.60" y1="375.25" x2="465.00" y2="375.25" stroke="#dcdcdc" stroke-width="0.8" />
<line x1="36.60" y1="406.40" x2="465.00" y2="406.40" stroke="#dcdcdc" stroke-width="0.8" />
<line x1="36.60" y1="437.55" x2="465.00" y2="437.55" stroke="#dcdcdc" stroke-width="0.8" />
<line x1="36.60" y1="468.70" x2="465.00" y2="468.70" stroke="#dcdcdc" stroke-width="0.8" />
<line x1="36.60" y1="499.85" x2="465.00" y2="499.85" stroke="#dcdcdc" stroke-width="0.8" />
<line x1="36.60" y1="531.00" x2="465.00" y2="531.00" stroke="#dcdcdc" stroke-width="0.8" />
<line x1="36.60" y1="562.15" x2="465.00" y2="562.15" stroke="#dcdcdc" stroke-width="0.8" />
<line x1="36.60" y1="593.30" x2="465.00" y2="593.30" stroke="#dcdcdc" stroke-width="0.8" />
<circle cx="233.00" cy="571.30" r="3.75" fill="none" stroke="#1c1c1c" stroke-width="1.1"/>
<circle cx="233.00" cy="582.40" r="3.75" fill="none" stroke="#1c1c1c" stroke-width="1.1"/>
<circle cx="233.00" cy="585.40" r="3.75" fill="none" stroke="#1c1c1c" stroke-width="1.1"/>
<circle cx="268.50" cy="579.00" r="3.75" fill="none" stroke="#1c1c1c" stroke-width="1.1"/>
<path d="M55.70 518.50 L91.30 544.75 L126.70 568.25 L162.40 576.00 L198.10 584.25 L233.00 582.40 L268.50 572.50 L304.00 558.00 L339.30 542.75 L374.60 520.25 L409.90 503.00" fill="none" stroke="#fdd9b8" stroke-width="1.55" stroke-linejoin="round" stroke-linecap="round" />
<circle cx="55.70" cy="518.50" r="2.15" fill="#fdd9b8" stroke="#fff" stroke-width="0.4"/>
<circle cx="91.30" cy="544.75" r="2.15" fill="#fdd9b8" stroke="#fff" stroke-width="0.4"/>
<circle cx="126.70" cy="568.25" r="2.15" fill="#fdd9b8" stroke="#fff" stroke-width="0.4"/>
<circle cx="162.40" cy="576.00" r="2.15" fill="#fdd9b8" stroke="#fff" stroke-width="0.4"/>
<circle cx="198.10" cy="584.25" r="2.15" fill="#fdd9b8" stroke="#fff" stroke-width="0.4"/>
<circle cx="233.00" cy="582.40" r="2.15" fill="#fdd9b8" stroke="#fff" stroke-width="0.4"/>
<circle cx="268.50" cy="572.50" r="2.15" fill="#fdd9b8" stroke="#fff" stroke-width="0.4"/>
<circle cx="304.00" cy="558.00" r="2.15" fill="#fdd9b8" stroke="#fff" stroke-width="0.4"/>
<circle cx="339.30" cy="542.75" r="2.15" fill="#fdd9b8" stroke="#fff" stroke-width="0.4"/>
<circle cx="374.60" cy="520.25" r="2.15" fill="#fdd9b8" stroke="#fff" stroke-width="0.4"/>
<circle cx="409.90" cy="503.00" r="2.15" fill="#fdd9b8" stroke="#fff" stroke-width="0.4"/>
<path d="M55.70 491.25 L91.30 509.00 L126.70 537.00 L162.40 562.00 L198.10 580.00 L233.00 585.40 L268.50 569.00 L304.00 551.75 L339.30 529.25 L374.60 502.50 L409.90 481.70" fill="none" stroke="#fdb97f" stroke-width="1.55" stroke-linejoin="round" stroke-linecap="round" />
<circle cx="55.70" cy="491.25" r="2.15" fill="#fdb97f" stroke="#fff" stroke-width="0.4"/>
<circle cx="91.30" cy="509.00" r="2.15" fill="#fdb97f" stroke="#fff" stroke-width="0.4"/>
<circle cx="126.70" cy="537.00" r="2.15" fill="#fdb97f" stroke="#fff" stroke-width="0.4"/>
<circle cx="162.40" cy="562.00" r="2.15" fill="#fdb97f" stroke="#fff" stroke-width="0.4"/>
<circle cx="198.10" cy="580.00" r="2.15" fill="#fdb97f" stroke="#fff" stroke-width="0.4"/>
<circle cx="233.00" cy="585.40" r="2.15" fill="#fdb97f" stroke="#fff" stroke-width="0.4"/>
<circle cx="268.50" cy="569.00" r="2.15" fill="#fdb97f" stroke="#fff" stroke-width="0.4"/>
<circle cx="304.00" cy="551.75" r="2.15" fill="#fdb97f" stroke="#fff" stroke-width="0.4"/>
<circle cx="339.30" cy="529.25" r="2.15" fill="#fdb97f" stroke="#fff" stroke-width="0.4"/>
<circle cx="374.60" cy="502.50" r="2.15" fill="#fdb97f" stroke="#fff" stroke-width="0.4"/>
<circle cx="409.90" cy="481.70" r="2.15" fill="#fdb97f" stroke="#fff" stroke-width="0.4"/>
<path d="M55.70 486.00 L91.30 483.20 L126.70 505.50 L162.40 531.75 L198.10 557.75 L233.00 571.25 L268.50 561.75 L304.00 536.50 L339.30 506.75 L374.60 478.20 L409.90 440.10" fill="none" stroke="#fd9243" stroke-width="1.55" stroke-linejoin="round" stroke-linecap="round" />
<circle cx="55.70" cy="486.00" r="2.15" fill="#fd9243" stroke="#fff" stroke-width="0.4"/>
<circle cx="91.30" cy="483.20" r="2.15" fill="#fd9243" stroke="#fff" stroke-width="0.4"/>
<circle cx="126.70" cy="505.50" r="2.15" fill="#fd9243" stroke="#fff" stroke-width="0.4"/>
<circle cx="162.40" cy="531.75" r="2.15" fill="#fd9243" stroke="#fff" stroke-width="0.4"/>
<circle cx="198.10" cy="557.75" r="2.15" fill="#fd9243" stroke="#fff" stroke-width="0.4"/>
<circle cx="233.00" cy="571.25" r="2.15" fill="#fd9243" stroke="#fff" stroke-width="0.4"/>
<circle cx="268.50" cy="561.75" r="2.15" fill="#fd9243" stroke="#fff" stroke-width="0.4"/>
<circle cx="304.00" cy="536.50" r="2.15" fill="#fd9243" stroke="#fff" stroke-width="0.4"/>
<circle cx="339.30" cy="506.75" r="2.15" fill="#fd9243" stroke="#fff" stroke-width="0.4"/>
<circle cx="374.60" cy="478.20" r="2.15" fill="#fd9243" stroke="#fff" stroke-width="0.4"/>
<circle cx="409.90" cy="440.10" r="2.15" fill="#fd9243" stroke="#fff" stroke-width="0.4"/>
<path d="M91.30 422.30 L126.70 479.90 L162.40 538.25 L198.10 562.50 L233.00 604.10 L268.50 579.00 L304.00 530.75 L339.30 475.40 L374.60 454.40 L409.90 403.50 L445.20 354.60" fill="none" stroke="#e8601c" stroke-width="1.55" stroke-linejoin="round" stroke-linecap="round" />
<circle cx="91.30" cy="422.30" r="2.15" fill="#e8601c" stroke="#fff" stroke-width="0.4"/>
<circle cx="126.70" cy="479.90" r="2.15" fill="#e8601c" stroke="#fff" stroke-width="0.4"/>
<circle cx="162.40" cy="538.25" r="2.15" fill="#e8601c" stroke="#fff" stroke-width="0.4"/>
<circle cx="198.10" cy="562.50" r="2.15" fill="#e8601c" stroke="#fff" stroke-width="0.4"/>
<circle cx="233.00" cy="604.10" r="2.15" fill="#e8601c" stroke="#fff" stroke-width="0.4"/>
<circle cx="268.50" cy="579.00" r="2.15" fill="#e8601c" stroke="#fff" stroke-width="0.4"/>
<circle cx="304.00" cy="530.75" r="2.15" fill="#e8601c" stroke="#fff" stroke-width="0.4"/>
<circle cx="339.30" cy="475.40" r="2.15" fill="#e8601c" stroke="#fff" stroke-width="0.4"/>
<circle cx="374.60" cy="454.40" r="2.15" fill="#e8601c" stroke="#fff" stroke-width="0.4"/>
<circle cx="409.90" cy="403.50" r="2.15" fill="#e8601c" stroke="#fff" stroke-width="0.4"/>
<circle cx="445.20" cy="354.60" r="2.15" fill="#e8601c" stroke="#fff" stroke-width="0.4"/>
<rect x="36.60" y="342.10" width="428.40" height="273.90" fill="none" stroke="#cecece" stroke-width="1.1" rx="0" />
<text x="49.40 53.73 58.07 62.40" y="629.14" text-anchor="middle" fill="#383838" font-size="8.05" transform="translate(55.90 0) scale(0.86 1) translate(-55.90 0)" >7600</text>
<text x="120.40 124.73 129.07 133.40" y="629.14" text-anchor="middle" fill="#383838" font-size="8.05" transform="translate(126.90 0) scale(0.86 1) translate(-126.90 0)" >7800</text>
<text x="191.80 196.13 200.47 204.80" y="629.14" text-anchor="middle" fill="#383838" font-size="8.05" transform="translate(198.30 0) scale(0.86 1) translate(-198.30 0)" >8000</text>
<text x="262.20 266.53 270.87 275.20" y="629.14" text-anchor="middle" fill="#383838" font-size="8.05" transform="translate(268.70 0) scale(0.86 1) translate(-268.70 0)" >8200</text>
<text x="333.00 337.33 341.67 346.00" y="629.14" text-anchor="middle" fill="#383838" font-size="8.05" transform="translate(339.50 0) scale(0.86 1) translate(-339.50 0)" >8400</text>
<text x="403.60 407.93 412.27 416.60" y="629.14" text-anchor="middle" fill="#383838" font-size="8.05" transform="translate(410.10 0) scale(0.86 1) translate(-410.10 0)" >8600</text>
<text x="15.64 19.97 24.30 28.63" y="346.94" text-anchor="middle" fill="#383838" font-size="8.05" transform="translate(30.80 0) scale(0.86 1) translate(-30.80 0)" >0.55</text>
<text x="15.64 19.97 24.30 28.63" y="378.09" text-anchor="middle" fill="#383838" font-size="8.05" transform="translate(30.80 0) scale(0.86 1) translate(-30.80 0)" >0.50</text>
<text x="15.64 19.97 24.30 28.63" y="409.24" text-anchor="middle" fill="#383838" font-size="8.05" transform="translate(30.80 0) scale(0.86 1) translate(-30.80 0)" >0.45</text>
<text x="15.64 19.97 24.30 28.63" y="440.39" text-anchor="middle" fill="#383838" font-size="8.05" transform="translate(30.80 0) scale(0.86 1) translate(-30.80 0)" >0.40</text>
<text x="15.64 19.97 24.30 28.63" y="471.54" text-anchor="middle" fill="#383838" font-size="8.05" transform="translate(30.80 0) scale(0.86 1) translate(-30.80 0)" >0.35</text>
<text x="15.64 19.97 24.30 28.63" y="502.69" text-anchor="middle" fill="#383838" font-size="8.05" transform="translate(30.80 0) scale(0.86 1) translate(-30.80 0)" >0.30</text>
<text x="15.64 19.97 24.30 28.63" y="533.84" text-anchor="middle" fill="#383838" font-size="8.05" transform="translate(30.80 0) scale(0.86 1) translate(-30.80 0)" >0.25</text>
<text x="15.64 19.97 24.30 28.63" y="564.99" text-anchor="middle" fill="#383838" font-size="8.05" transform="translate(30.80 0) scale(0.86 1) translate(-30.80 0)" >0.20</text>
<text x="15.64 19.97 24.30 28.63" y="596.14" text-anchor="middle" fill="#383838" font-size="8.05" transform="translate(30.80 0) scale(0.86 1) translate(-30.80 0)" >0.15</text>
<text x="197.81 207.00 216.18 225.36 234.54 243.72 252.90 259.78 264.37 268.96 275.84 285.02 294.20 303.38" y="336.65" text-anchor="middle" fill="#383838" font-size="9.18" >隐含波动率曲线 <tspan font-family="'Liberation Mono',monospace" font-size="16.52" baseline-shift="-1.25">-</tspan> 花生期权</text>
<text x="243.20 250.80 258.40" y="639.07" text-anchor="middle" fill="#383838" font-size="7.60" >行权价</text>
<text x="-7.60 0.40 8.40 16.40 24.40" y="483.32" text-anchor="middle" fill="#383838" font-size="8.00" transform="rotate(-90 8.40 480.40)" >隐含波动率</text>
<rect x="468.50" y="346.30" width="66.20" height="82.00" fill="#fff" stroke="#d4d4d4" stroke-width="0.7" rx="1.5" />
<text x="490.40 497.80 505.20 512.60" y="356.00" text-anchor="middle" fill="#383838" font-size="7.40" >交易日期</text>
<line x1="470.80" y1="363.90" x2="486.90" y2="363.90" stroke="#fee0c5" stroke-width="1.1" />
<text x="495.24 499.72 504.19 508.67 513.15 517.62 522.10 526.58 531.05 535.53" y="367.14" text-anchor="middle" fill="#383838" font-size="8.32" transform="translate(493.00 0) scale(0.86 1) translate(-493.00 0)" >2025<tspan font-family="'Liberation Mono',monospace" font-size="14.97" baseline-shift="-1.13">-</tspan>04<tspan font-family="'Liberation Mono',monospace" font-size="14.97" baseline-shift="-1.13">-</tspan>07</text>
<line x1="470.80" y1="375.20" x2="486.90" y2="375.20" stroke="#fdbb84" stroke-width="1.1" />
<text x="495.24 499.72 504.19 508.67 513.15 517.62 522.10 526.58 531.05 535.53" y="378.44" text-anchor="middle" fill="#383838" font-size="8.32" transform="translate(493.00 0) scale(0.86 1) translate(-493.00 0)" >2025<tspan font-family="'Liberation Mono',monospace" font-size="14.97" baseline-shift="-1.13">-</tspan>04<tspan font-family="'Liberation Mono',monospace" font-size="14.97" baseline-shift="-1.13">-</tspan>08</text>
<line x1="470.80" y1="386.40" x2="486.90" y2="386.40" stroke="#fd9243" stroke-width="1.1" />
<text x="495.24 499.72 504.19 508.67 513.15 517.62 522.10 526.58 531.05 535.53" y="389.64" text-anchor="middle" fill="#383838" font-size="8.32" transform="translate(493.00 0) scale(0.86 1) translate(-493.00 0)" >2025<tspan font-family="'Liberation Mono',monospace" font-size="14.97" baseline-shift="-1.13">-</tspan>04<tspan font-family="'Liberation Mono',monospace" font-size="14.97" baseline-shift="-1.13">-</tspan>09</text>
<line x1="470.80" y1="397.70" x2="486.90" y2="397.70" stroke="#e8601c" stroke-width="1.1" />
<text x="495.24 499.72 504.19 508.67 513.15 517.62 522.10 526.58 531.05 535.53" y="400.94" text-anchor="middle" fill="#383838" font-size="8.32" transform="translate(493.00 0) scale(0.86 1) translate(-493.00 0)" >2025<tspan font-family="'Liberation Mono',monospace" font-size="14.97" baseline-shift="-1.13">-</tspan>04<tspan font-family="'Liberation Mono',monospace" font-size="14.97" baseline-shift="-1.13">-</tspan>10</text>
<line x1="470.80" y1="409.20" x2="486.90" y2="409.20" stroke="#c0602f" stroke-width="1.5" />
<text x="495.24 499.72 504.19 508.67 513.15 517.62 522.10 526.58 531.05 535.53" y="412.44" text-anchor="middle" fill="#383838" font-size="8.32" transform="translate(493.00 0) scale(0.86 1) translate(-493.00 0)" >2025<tspan font-family="'Liberation Mono',monospace" font-size="14.97" baseline-shift="-1.13">-</tspan>04<tspan font-family="'Liberation Mono',monospace" font-size="14.97" baseline-shift="-1.13">-</tspan>11</text>
<circle cx="479.0" cy="421.6" r="3.85" fill="none" stroke="#333" stroke-width="0.95"/>
<text x="496.75 504.25 511.75 519.25" y="424.44" text-anchor="middle" fill="#383838" font-size="7.50" >平值期权</text>
<line x1="607.25" y1="344.30" x2="607.25" y2="622.50" stroke="#dcdcdc" stroke-width="0.8"/>
<line x1="651.30" y1="344.30" x2="651.30" y2="622.50" stroke="#dcdcdc" stroke-width="0.8"/>
<line x1="739.40" y1="344.30" x2="739.40" y2="622.50" stroke="#dcdcdc" stroke-width="0.8"/>
<line x1="827.50" y1="344.30" x2="827.50" y2="622.50" stroke="#dcdcdc" stroke-width="0.8"/>
<line x1="915.60" y1="344.30" x2="915.60" y2="622.50" stroke="#dcdcdc" stroke-width="0.8"/>
<line x1="1003.70" y1="344.30" x2="1003.70" y2="622.50" stroke="#dcdcdc" stroke-width="0.8"/>
<line x1="584.60" y1="370.40" x2="1070.70" y2="370.40" stroke="#d2d2d2" stroke-width="0.8" />
<line x1="584.60" y1="429.45" x2="1070.70" y2="429.45" stroke="#d2d2d2" stroke-width="0.8" />
<line x1="584.60" y1="488.50" x2="1070.70" y2="488.50" stroke="#d2d2d2" stroke-width="0.8" />
<line x1="584.60" y1="547.55" x2="1070.70" y2="547.55" stroke="#d2d2d2" stroke-width="0.8" />
<line x1="584.60" y1="606.60" x2="1070.70" y2="606.60" stroke="#d2d2d2" stroke-width="0.8" />
<path d="M607.25 581.00 L651.30 580.50 L695.35 608.75 L739.40 610.00 L915.60 411.20 L959.65 422.30 L1003.70 356.80 L1047.75 391.00" fill="none" stroke="#3434ff" stroke-width="1.4" stroke-linejoin="round" stroke-linecap="round" />
<line x1="584.60" y1="463.90" x2="1070.70" y2="463.90" stroke="#ffa500" stroke-width="1.3" stroke-dasharray="4.1 1.8"/>
<line x1="584.60" y1="494.25" x2="1070.70" y2="494.25" stroke="#ffa500" stroke-width="1.3" stroke-dasharray="4.1 1.8"/>
<line x1="584.60" y1="531.00" x2="1070.70" y2="531.00" stroke="#ffa500" stroke-width="1.3" stroke-dasharray="4.1 1.8"/>
<line x1="584.60" y1="572.25" x2="1070.70" y2="572.25" stroke="#ffa500" stroke-width="1.3" stroke-dasharray="4.1 1.8"/>
<line x1="584.60" y1="609.25" x2="1070.70" y2="609.25" stroke="#ffa500" stroke-width="1.3" stroke-dasharray="4.1 1.8"/>
<rect x="584.60" y="344.30" width="486.10" height="278.20" fill="none" stroke="#cecece" stroke-width="1.1" rx="0" />
<text x="597.21 601.83 606.45 611.07 615.69" y="636.23" text-anchor="middle" fill="#383838" font-size="8.59" transform="translate(606.45 0) scale(0.86 1) translate(-606.45 0)" >03<tspan font-family="'Liberation Mono',monospace" font-size="15.45" baseline-shift="-1.17">-</tspan>31</text>
<text x="641.26 645.88 650.50 655.12 659.74" y="636.23" text-anchor="middle" fill="#383838" font-size="8.59" transform="translate(650.50 0) scale(0.86 1) translate(-650.50 0)" >04<tspan font-family="'Liberation Mono',monospace" font-size="15.45" baseline-shift="-1.17">-</tspan>01</text>
<text x="729.36 733.98 738.60 743.22 747.84" y="636.23" text-anchor="middle" fill="#383838" font-size="8.59" transform="translate(738.60 0) scale(0.86 1) translate(-738.60 0)" >04<tspan font-family="'Liberation Mono',monospace" font-size="15.45" baseline-shift="-1.17">-</tspan>03</text>
<text x="817.46 822.08 826.70 831.32 835.94" y="636.23" text-anchor="middle" fill="#383838" font-size="8.59" transform="translate(826.70 0) scale(0.86 1) translate(-826.70 0)" >04<tspan font-family="'Liberation Mono',monospace" font-size="15.45" baseline-shift="-1.17">-</tspan>05</text>
<text x="905.56 910.18 914.80 919.42 924.04" y="636.23" text-anchor="middle" fill="#383838" font-size="8.59" transform="translate(914.80 0) scale(0.86 1) translate(-914.80 0)" >04<tspan font-family="'Liberation Mono',monospace" font-size="15.45" baseline-shift="-1.17">-</tspan>07</text>
<text x="993.66 998.28 1002.90 1007.52 1012.14" y="636.23" text-anchor="middle" fill="#383838" font-size="8.59" transform="translate(1002.90 0) scale(0.86 1) translate(-1002.90 0)" >04<tspan font-family="'Liberation Mono',monospace" font-size="15.45" baseline-shift="-1.17">-</tspan>09</text>
<text x="561.32 565.97 570.62 575.27" y="374.15" text-anchor="middle" fill="#383838" font-size="8.64" transform="translate(577.60 0) scale(0.86 1) translate(-577.60 0)" >0.18</text>
<text x="561.32 565.97 570.62 575.27" y="433.20" text-anchor="middle" fill="#383838" font-size="8.64" transform="translate(577.60 0) scale(0.86 1) translate(-577.60 0)" >0.16</text>
<text x="561.32 565.97 570.62 575.27" y="492.25" text-anchor="middle" fill="#383838" font-size="8.64" transform="translate(577.60 0) scale(0.86 1) translate(-577.60 0)" >0.14</text>
<text x="561.32 565.97 570.62 575.27" y="551.30" text-anchor="middle" fill="#383838" font-size="8.64" transform="translate(577.60 0) scale(0.86 1) translate(-577.60 0)" >0.12</text>
<text x="561.32 565.97 570.62 575.27" y="610.35" text-anchor="middle" fill="#383838" font-size="8.64" transform="translate(577.60 0) scale(0.86 1) translate(-577.60 0)" >0.10</text>
<text x="776.25 785.18 794.11 803.04 809.74 816.44 825.37 834.30 843.23 852.16 861.09 870.02 878.95" y="339.96" text-anchor="middle" fill="#383838" font-size="8.93" >花生期权 隐含波动率锥形图</text>
<text x="536.36 545.23 554.10 562.97 571.84" y="488.44" text-anchor="middle" fill="#383838" font-size="8.87" transform="rotate(-90 554.10 485.20)" >隐含波动率</text>
<rect x="991.40" y="349.10" width="74.60" height="72.10" fill="rgba(255,255,255,0.8)" stroke="#d4d4d4" stroke-width="0.7" rx="1.5" />
<line x1="993.70" y1="354.60" x2="1010.80" y2="354.60" stroke="#3434ff" stroke-width="1.4" />
<text x="1020.30 1024.89" y="357.91" text-anchor="middle" fill="#383838" font-size="8.53" transform="translate(1018.00 0) scale(0.86 1) translate(-1018.00 0)" >I<tspan font-family="'Liberation Mono',monospace" font-size="8.38">V</tspan></text>
<line x1="993.70" y1="366.50" x2="1010.80" y2="366.50" stroke="#ffa500" stroke-width="1.3" stroke-dasharray="4.1 1.8"/>
<text x="1019.44 1023.51 1027.59 1031.66 1035.74 1041.85 1050.00 1058.15" y="369.67" text-anchor="middle" fill="#383838" font-size="8.15" >10<tspan font-family="'Liberation Mono',monospace" font-size="8.15">th</tspan> 分位数</text>
<line x1="993.70" y1="377.90" x2="1010.80" y2="377.90" stroke="#ffa500" stroke-width="1.3" stroke-dasharray="4.1 1.8"/>
<text x="1019.44 1023.51 1027.59 1031.66 1035.74 1041.85 1050.00 1058.15" y="381.07" text-anchor="middle" fill="#383838" font-size="8.15" >25<tspan font-family="'Liberation Mono',monospace" font-size="8.15">th</tspan> 分位数</text>
<line x1="993.70" y1="389.70" x2="1010.80" y2="389.70" stroke="#ffa500" stroke-width="1.3" stroke-dasharray="4.1 1.8"/>
<text x="1019.44 1023.51 1027.59 1031.66 1035.74 1041.85 1050.00 1058.15" y="392.87" text-anchor="middle" fill="#383838" font-size="8.15" >50<tspan font-family="'Liberation Mono',monospace" font-size="8.15">th</tspan> 分位数</text>
<line x1="993.70" y1="401.30" x2="1010.80" y2="401.30" stroke="#ffa500" stroke-width="1.3" stroke-dasharray="4.1 1.8"/>
<text x="1019.44 1023.51 1027.59 1031.66 1035.74 1041.85 1050.00 1058.15" y="404.47" text-anchor="middle" fill="#383838" font-size="8.15" >75<tspan font-family="'Liberation Mono',monospace" font-size="8.15">th</tspan> 分位数</text>
<line x1="993.70" y1="413.10" x2="1010.80" y2="413.10" stroke="#ffa500" stroke-width="1.3" stroke-dasharray="4.1 1.8"/>
<text x="1019.44 1023.51 1027.59 1031.66 1035.74 1041.85 1050.00 1058.15" y="416.27" text-anchor="middle" fill="#383838" font-size="8.15" >90<tspan font-family="'Liberation Mono',monospace" font-size="8.15">th</tspan> 分位数</text>
</svg>
</body></html>
